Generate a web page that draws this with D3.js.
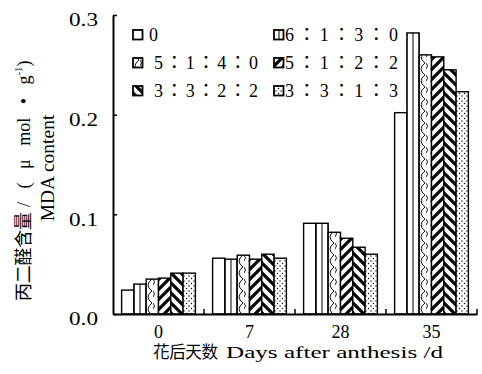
<!DOCTYPE html>
<html>
<head>
<meta charset="utf-8">
<script src="https://cdn.jsdelivr.net/npm/d3@7"></script>
<style>
  body { margin: 0; background: #fff; }
  svg text { font-family: "Times New Roman", "Liberation Serif", "Noto Sans CJK TC", serif; fill: #000; }
</style>
</head>
<body>
<div class="canvas"></div>
<script>
const days = ['0', '7', '28', '35']
const seriesNames = ['0', '6：1：3：0', '5：1：4：0', '5：1：2：2', '3：3：2：2', '3：3：1：3']
const s0 = [0.024, 0.056, 0.091, 0.202]
const s1 = [0.030, 0.055, 0.091, 0.282]
const s2 = [0.035, 0.059, 0.082, 0.260]
const s3 = [0.036, 0.055, 0.076, 0.258]
const s4 = [0.041, 0.060, 0.067, 0.245]
const s5 = [0.041, 0.056, 0.060, 0.223]
const yTicks = [0, 0.1, 0.2, 0.3]
const values = [s0, s1, s2, s3, s4, s5]

const margin = { top: 15, right: 5, bottom: 60, left: 113 }
const width = 482, height = 374
const graphHeight = 314 - margin.top

const svg = d3.select('.canvas')
    .append('svg')
    .attr('width', width)
    .attr('height', height)

// hatch patterns
const defs = svg.append('defs')
const pat = (id, w, h) => {
    const p = defs.append('pattern').attr('id', id)
        .attr('patternUnits', 'userSpaceOnUse').attr('width', w).attr('height', h)
    p.append('rect').attr('width', w).attr('height', h).attr('fill', '#fff')
    return p
}
pat('p0', 4, 4)
pat('p1', 6, 10).append('line').attr('x1', 3).attr('x2', 3).attr('y1', 0).attr('y2', 10)
    .attr('stroke', '#000').attr('stroke-width', 1)
pat('p2', 10, 12).append('path')
    .attr('d', 'M9,0 Q1,6 9,12 M0,0 Q3,3 0,6')
    .attr('fill', 'none').attr('stroke', '#000').attr('stroke-width', 0.9)
pat('p3', 10, 10).append('path')
    .attr('d', 'M-3,3 L3,-3 M0,10 L10,0 M7,13 L13,7')
    .attr('stroke', '#000').attr('stroke-width', 3.2)
pat('p4', 10, 10).append('path')
    .attr('d', 'M-3,7 L3,13 M0,0 L10,10 M7,-3 L13,3')
    .attr('stroke', '#000').attr('stroke-width', 3.2)
const dots = pat('p5', 5, 5)
dots.append('circle').attr('cx', 1).attr('cy', 1).attr('r', 0.7).attr('fill', '#000')
dots.append('circle').attr('cx', 3.5).attr('cy', 3.5).attr('r', 0.7).attr('fill', '#000')
const fills = ['url(#p0)', 'url(#p1)', 'url(#p2)', 'url(#p3)', 'url(#p4)', 'url(#p5)']

const graph = svg.append('g')
    .attr('transform', `translate(${margin.left}, ${margin.top})`)

const x = d3.scaleBand().domain(days).range([0, 364])
const xInner = d3.scaleBand().domain(d3.range(seriesNames.length))
    .range([0, x.bandwidth()]).paddingOuter(0.7)
const y = d3.scaleLinear().domain([0, 0.3]).range([graphHeight, 0])

// bars
const groups = graph.selectAll('g.day')
    .data(days)
    .enter().append('g')
    .attr('class', 'day')
    .attr('transform', d => `translate(${x(d)}, 0)`)

groups.selectAll('rect')
    .data((d, i) => values.map((s, k) => ({ k, v: s[i] })))
    .enter().append('rect')
    .attr('x', d => xInner(d.k))
    .attr('width', xInner.bandwidth())
    .attr('y', d => y(d.v))
    .attr('height', d => graphHeight - y(d.v))
    .attr('fill', d => fills[d.k])
    .attr('stroke', '#000')
    .attr('stroke-width', 1.4)

// axes
const yAxis = d3.axisLeft(y).tickValues(yTicks).tickFormat(d3.format('.1f'))
    .tickSize(-4).tickSizeOuter(0).tickPadding(15)
const yAxisGroup = graph.append('g').call(yAxis)
yAxisGroup.selectAll('text').attr('font-size', 18).attr('dy', '0.6em')
    .attr('textLength', 29).attr('lengthAdjust', 'spacingAndGlyphs')
yAxisGroup.selectAll('line').attr('stroke-width', 1.5)

const xAxis = d3.axisBottom(x).tickSize(0).tickPadding(11)
const xAxisGroup = graph.append('g')
    .attr('transform', `translate(0, ${graphHeight})`)
    .call(xAxis)
xAxisGroup.selectAll('text').attr('font-size', 18)
xAxisGroup.selectAll('.bound')
    .data(days)
    .enter().append('line')
    .attr('class', 'bound')
    .attr('x1', d => x(d) + x.bandwidth()).attr('x2', d => x(d) + x.bandwidth())
    .attr('y1', 0).attr('y2', -5)
    .attr('stroke', '#000').attr('stroke-width', 1.5)

svg.selectAll('.domain').attr('stroke-width', 2)

// legend
const legend = svg.append('g')
seriesNames.forEach((name, k) => {
    const col = k % 2, row = Math.floor(k / 2)
    const lx = col === 0 ? 133 : 274
    const ly = 30 + row * 28
    legend.append('rect')
        .attr('x', lx).attr('y', ly).attr('width', 9.5).attr('height', 9.5)
        .attr('fill', fills[k]).attr('stroke', '#000').attr('stroke-width', 1.8)
    const t = legend.append('text')
        .attr('x', col === 0 ? (k === 0 ? 149 : 154) : 285)
        .attr('y', ly + 11)
        .attr('font-size', 18)
        .text(name)
    if (k > 0) t.attr('textLength', col === 0 ? 104 : 113).attr('lengthAdjust', 'spacing')
})

// axis titles
svg.append('text')
    .attr('x', 153).attr('y', 358)
    .attr('font-size', 16.5)
    .attr('textLength', 65)
    .text('花后天数')
svg.append('text')
    .attr('x', 226).attr('y', 358)
    .attr('font-size', 17)
    .attr('textLength', 217).attr('lengthAdjust', 'spacingAndGlyphs')
    .text('Days after anthesis  /d')

svg.append('text')
    .attr('transform', 'translate(24, 301) rotate(-90)')
    .attr('dominant-baseline', 'central')
    .attr('font-size', 18)
    .attr('textLength', 89)
    .text('丙二醛含量')
const yLabel = svg.append('text')
    .attr('transform', 'translate(24, 207) rotate(-90)')
    .attr('dominant-baseline', 'central')
    .attr('font-size', 18)
    .attr('word-spacing', 9)
yLabel.append('tspan').text('/ ( μ mol • g')
yLabel.append('tspan').attr('dy', -6).attr('font-size', 11).text('-1')
yLabel.append('tspan').attr('dy', 6).text(')')

svg.append('text')
    .attr('transform', 'translate(47, 168) rotate(-90)')
    .attr('text-anchor', 'middle')
    .attr('dominant-baseline', 'central')
    .attr('font-size', 19.5)
    .text('MDA content')
</script>
</body>
</html>
